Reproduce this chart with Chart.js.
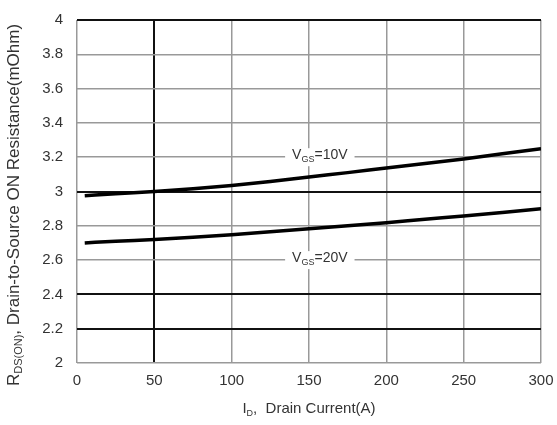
<!DOCTYPE html>
<html>
<head>
<meta charset="utf-8">
<script src="https://cdn.jsdelivr.net/npm/chart.js@4"></script>
<style>
  html, body { margin: 0; padding: 0; background: #fff; }
  #wrap { width: 557px; height: 425px; }
</style>
</head>
<body>
<div id="wrap"><canvas id="chart" width="557" height="425"></canvas></div>
<script>
// drain current (A)
const current = [5, 25, 50, 75, 100, 125, 150, 175, 200, 225, 250, 275, 300];
// RDS(on) in mOhm
const vgs10 = [2.975, 2.987, 3.0, 3.016, 3.035, 3.058, 3.085, 3.11, 3.137, 3.163, 3.19, 3.22, 3.25];
const vgs20 = [2.70, 2.71, 2.72, 2.733, 2.748, 2.765, 2.783, 2.80, 2.818, 2.838, 2.857, 2.878, 2.90];
const xTicks = [0, 50, 100, 150, 200, 250, 300];
const yTicks = [2, 2.2, 2.4, 2.6, 2.8, 3, 3.2, 3.4, 3.6, 3.8, 4];
const darkX = [50];
const darkY = [2.2, 2.4, 3, 4];
const curveLabels = [
  { sub: "GS", main: "V", rest: "=10V", x: 157, y: 3.2 },
  { sub: "GS", main: "V", rest: "=20V", x: 157, y: 2.6 },
];

const FONT = "'Liberation Sans', Arial, sans-serif";

// text with a subscript, drawn left to right from x
function subText(ctx, x, y, main, sub, rest, size) {
  ctx.font = `${size}px ${FONT}`;
  ctx.fillText(main, x, y);
  x += ctx.measureText(main).width;
  ctx.font = `${Math.round(size * 0.62)}px ${FONT}`;
  ctx.fillText(sub, x, y + size * 0.3);
  x += ctx.measureText(sub).width;
  ctx.font = `${size}px ${FONT}`;
  ctx.fillText(rest, x, y);
  return x + ctx.measureText(rest).width;
}

function subWidth(ctx, main, sub, rest, size) {
  ctx.font = `${size}px ${FONT}`;
  let w = ctx.measureText(main).width + ctx.measureText(rest).width;
  ctx.font = `${Math.round(size * 0.62)}px ${FONT}`;
  return w + ctx.measureText(sub).width;
}

const annotations = {
  id: "annotations",
  afterDatasetsDraw(chart) {
    const { ctx, scales } = chart;
    const area = chart.chartArea;
    ctx.save();
    ctx.textBaseline = "middle";
    ctx.textAlign = "left";
    curveLabels.forEach((l) => {
      const cx = scales.x.getPixelForValue(l.x);
      const cy = scales.y.getPixelForValue(l.y);
      const w = subWidth(ctx, l.main, l.sub, l.rest, 14);
      ctx.fillStyle = "#fff";
      ctx.fillRect(cx - w / 2 - 7, cy - 9, w + 14, 18);
      ctx.fillStyle = "#333";
      subText(ctx, cx - w / 2, cy - 2, l.main, l.sub, l.rest, 14);
    });

    // x axis title
    ctx.fillStyle = "#333";
    const xw = subWidth(ctx, "I", "D", ",  Drain Current(A)", 15);
    subText(ctx, (area.left + area.right) / 2 - xw / 2, 409, "I", "D", ",  Drain Current(A)", 15);

    // y axis title
    ctx.translate(14, 205);
    ctx.rotate(-Math.PI / 2);
    const ytxt = ", Drain-to-Source ON Resistance(mOhm)";
    const yw = subWidth(ctx, "R", "DS(ON)", ytxt, 17);
    subText(ctx, -yw / 2, 0, "R", "DS(ON)", ytxt, 17);
    ctx.restore();

    // cropped figure caption at the very top
    ctx.save();
    ctx.fillStyle = "#222";
    ctx.font = `bold 15px ${FONT}`;
    ctx.textAlign = "left";
    ctx.textBaseline = "alphabetic";
    ctx.fillText("Figure 6. Typical On-Resistance vs. Drain Current", 100, -3);
    ctx.restore();
  },
};

new Chart(document.getElementById("chart"), {
  type: "line",
  data: {
    datasets: [
      { label: "VGS=10V", data: current.map((x, i) => ({ x, y: vgs10[i] })) },
      { label: "VGS=20V", data: current.map((x, i) => ({ x, y: vgs20[i] })) },
    ],
  },
  options: {
    responsive: false,
    animation: false,
    layout: { padding: { top: 20, right: 16, left: 0, bottom: 0 } },
    elements: {
      line: { borderColor: "#000", borderWidth: 3.5, cubicInterpolationMode: "monotone" },
      point: { radius: 0 },
    },
    plugins: { legend: { display: false }, tooltip: { enabled: false } },
    scales: {
      x: {
        type: "linear",
        min: 0,
        max: 300,
        afterFit: (s) => { s.height = 62; s.paddingLeft = 0; s.paddingRight = 0; },
        afterBuildTicks: (s) => { s.ticks = xTicks.map((v) => ({ value: v })); },
        border: { display: false },
        grid: {
          color: (c) => (darkX.includes(c.tick.value) ? "#111" : "#999"),
          lineWidth: (c) => (darkX.includes(c.tick.value) ? 2 : 1.5),
          drawTicks: false,
        },
        ticks: { color: "#333", font: { family: FONT, size: 15 }, padding: 9, maxRotation: 0 },
      },
      y: {
        type: "linear",
        min: 2,
        max: 4,
        afterFit: (s) => { s.width = 77; s.paddingTop = 0; s.paddingBottom = 0; },
        afterBuildTicks: (s) => { s.ticks = yTicks.map((v) => ({ value: v })); },
        border: { display: false },
        grid: {
          color: (c) => (darkY.includes(c.tick.value) ? "#111" : "#999"),
          lineWidth: (c) => (darkY.includes(c.tick.value) ? 2 : 1.5),
          drawTicks: false,
        },
        ticks: {
          color: "#333",
          font: { family: FONT, size: 15 },
          padding: 14,
          callback: (v) => String(v),
        },
      },
    },
  },
  plugins: [annotations],
});
</script>
</body>
</html>
